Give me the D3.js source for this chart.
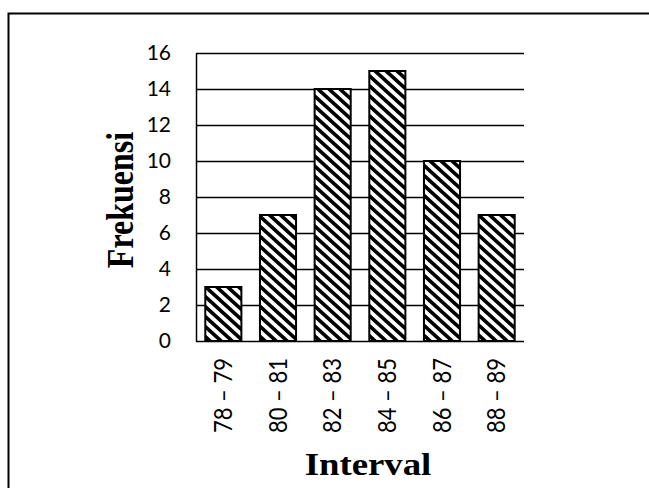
<!DOCTYPE html>
<html>
<head>
<meta charset="utf-8">
<script src="https://cdn.jsdelivr.net/npm/d3@7"></script>
<style>
  html, body { margin: 0; padding: 0; background: #fff; }
  svg { display: block; }
</style>
</head>
<body>
<script>
const categories = ["78 – 79", "80 – 81", "82 – 83", "84 – 85", "86 – 87", "88 – 89"];
const frequencies = [3, 7, 14, 15, 10, 7];
const yTicks = [0, 2, 4, 6, 8, 10, 12, 14, 16];
const xTitle = "Interval";
const yTitle = "Frekuensi";

const W = 649, H = 488;
const plot = { left: 196, right: 524, top: 53, bottom: 341 };

const svg = d3.select("body").append("svg").attr("width", W).attr("height", H);

// pattern: wide downward diagonal
const defs = svg.append("defs");
const pat = defs.append("pattern")
  .attr("id", "diag")
  .attr("patternUnits", "userSpaceOnUse")
  .attr("width", 10).attr("height", 10)
  .attr("patternTransform", "scale(1.1,1)");
pat.append("rect").attr("width", 10).attr("height", 10).attr("fill", "#fff");
pat.append("path")
  .attr("d", "M-3,-3 L13,13 M-3,7 L3,13 M7,-3 L13,3")
  .attr("stroke", "#000").attr("stroke-width", 3.4);

// outer frame (extends beyond right/bottom edges)
svg.append("rect")
  .attr("x", 8.5).attr("y", 13.5)
  .attr("width", 800).attr("height", 800)
  .attr("fill", "none").attr("stroke", "#000").attr("stroke-width", 2);

const x = d3.scaleBand().domain(categories)
  .range([plot.left, plot.right]).paddingInner(0.34).paddingOuter(0.17);
const y = d3.scaleLinear().domain([0, 16]).range([plot.bottom, plot.top]);

// gridlines
const grid = svg.append("g").attr("transform", `translate(${plot.left},0)`)
  .call(d3.axisLeft(y).tickValues(yTicks).tickSize(-(plot.right - plot.left)).tickFormat("").tickSizeOuter(0));
grid.selectAll(".tick line").attr("stroke", "#000").attr("stroke-width", 1.5);
grid.select(".domain").attr("stroke", "#000").attr("stroke-width", 1.5);

// y tick labels
const yAx = svg.append("g").attr("transform", `translate(${plot.left},0)`)
  .call(d3.axisLeft(y).tickValues(yTicks).tickSize(0).tickPadding(25));
yAx.select(".domain").remove();
yAx.selectAll("text")
  .attr("font-family", "Lato, 'Open Sans', sans-serif")
  .attr("font-size", 21).attr("fill", "#000");

// bars
svg.append("g").selectAll("rect").data(frequencies).join("rect")
  .attr("x", (d, i) => x(categories[i]))
  .attr("y", d => y(d))
  .attr("width", x.bandwidth())
  .attr("height", d => y(0) - y(d))
  .attr("fill", "url(#diag)")
  .attr("stroke", "#000").attr("stroke-width", 2);

// x tick labels
const xAx = svg.append("g").attr("transform", `translate(0,${plot.bottom})`)
  .call(d3.axisBottom(x).tickSize(0));
xAx.select(".domain").remove();
xAx.selectAll("text")
  .attr("font-family", "Lato, 'Open Sans', sans-serif")
  .attr("font-size", 22).attr("fill", "#000")
  .attr("text-anchor", "end")
  .attr("x", -17).attr("y", 0).attr("dy", "0.35em")
  .attr("transform", "scale(1.12,1) rotate(-90)");

// axis titles
svg.append("text")
  .attr("transform", "translate(133,200) scale(1.2,1) rotate(-90)")
  .attr("text-anchor", "middle")
  .attr("font-family", "'Liberation Serif', 'Times New Roman', serif")
  .attr("font-weight", "bold").attr("font-size", 32)
  .text(yTitle);

svg.append("text")
  .attr("transform", "translate(368,475) scale(1.15,1)")
  .attr("text-anchor", "middle")
  .attr("font-family", "'Liberation Serif', 'Times New Roman', serif")
  .attr("font-weight", "bold").attr("font-size", 32)
  .text(xTitle);
</script>
</body>
</html>
